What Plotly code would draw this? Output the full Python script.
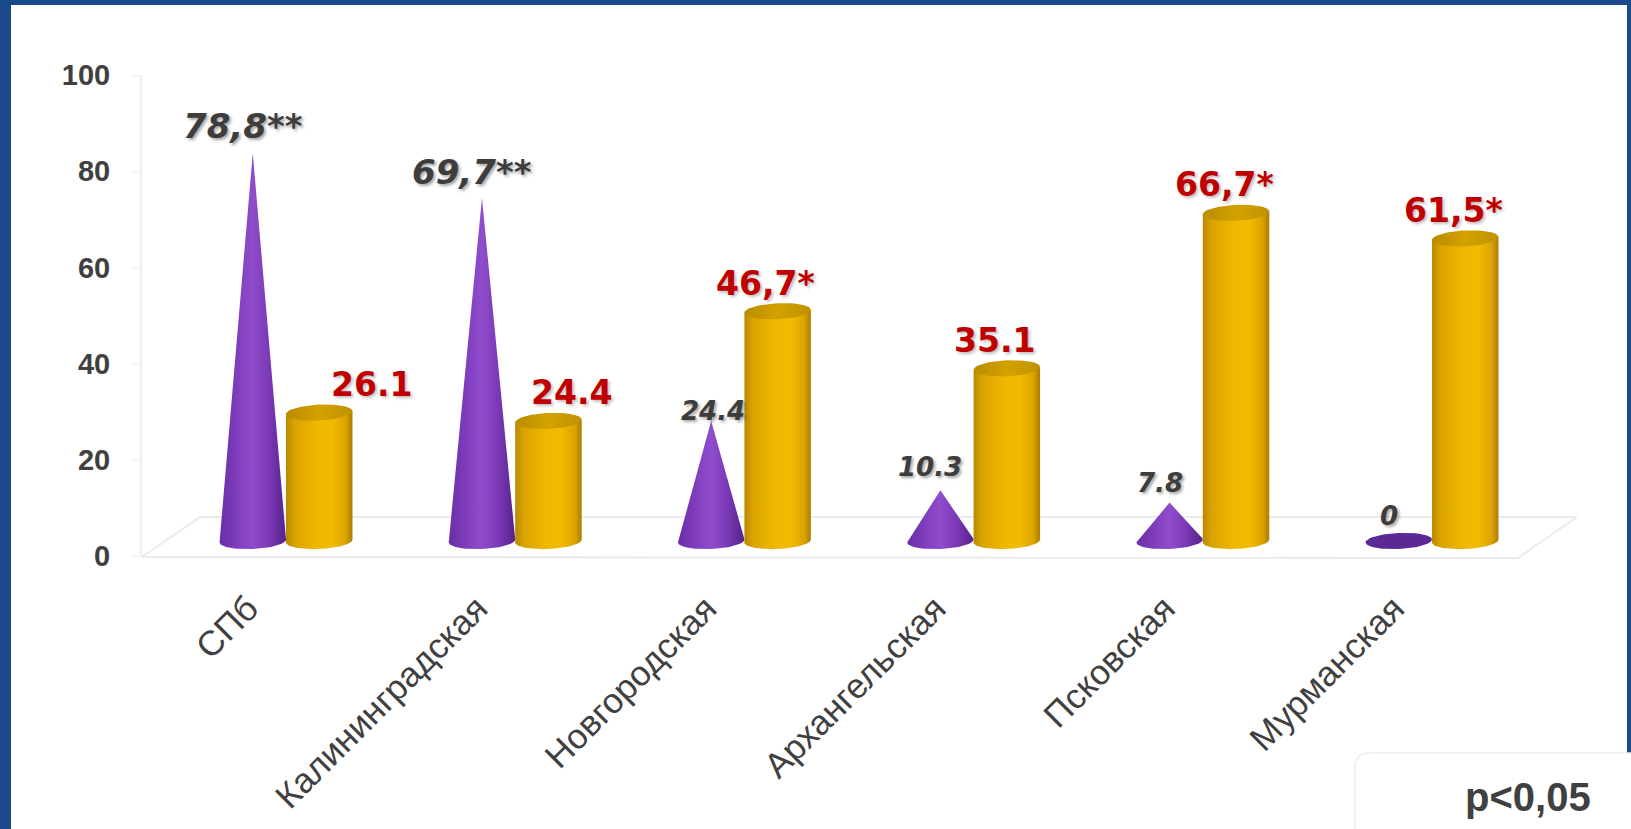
import numpy as np
import plotly.graph_objects as go

W, H = 1631, 829

# ---- data -------------------------------------------------------------
regions = ["СПб", "Калининградская", "Новгородская", "Архангельская", "Псковская", "Мурманская"]
cone_values = [78.8, 69.7, 24.4, 10.3, 7.8, 0]
cyl_values = [26.1, 24.4, 46.7, 35.1, 66.7, 61.5]
cone_labels = ["78,8**", "69,7**", "24.4", "10.3", "7.8", "0"]
cyl_labels = ["26.1", "24.4", "46,7*", "35.1", "66,7*", "61,5*"]
y_ticks = [0, 20, 40, 60, 80, 100]

# ---- label placement (pixels) -------------------------------------------
cyl_label_dx = [52, 23, -12, -12, -12, -12]
cone_label_dx = [-10, -10, 2, -10, -10, -10]
cone_label_dy = [27, 26, 10, 23, 20, 25]

FONT = "Liberation Sans, Arial, sans-serif"
WIDE = "DejaVu Sans, Verdana, sans-serif"
PURPLE = [[0, "#6a2ea6"], [0.3, "#823fc0"], [0.5, "#8f4dcc"], [0.75, "#7a38b6"], [1, "#55228a"]]
GOLD = [[0, "#b88900"], [0.12, "#d9a200"], [0.45, "#efb700"], [0.7, "#f2bb00"],
        [0.9, "#dba300"], [1, "#a97d00"]]
GOLD_TOP = [[0, "#b98c00"], [0.5, "#d3a200"], [1, "#c09200"]]


def px(x):
    return x / W


def py(y):
    return 1 - y / H


# geometry of the 3-D marks, in axis units
OFF = 0.145          # cone / cylinder centre offset from the category
A = 0.145            # half width
B = 8 / 4.92         # ellipse semi-minor axis
TILT = 0.3


def ellipse(cx, cy, t0=0.0, t1=2 * np.pi, n=73):
    t = np.linspace(t0, t1, n)
    return cx + A * np.cos(t), cy + B * np.sin(t) + TILT * np.cos(t)


def hull(xs, ys):
    pts = sorted(set(zip(np.round(xs, 6), np.round(ys, 6))))

    def cross(o, a, b):
        return (a[0] - o[0]) * (b[1] - o[1]) - (a[1] - o[1]) * (b[0] - o[0])

    lower, upper = [], []
    for p in pts:
        while len(lower) >= 2 and cross(lower[-2], lower[-1], p) <= 0:
            lower.pop()
        lower.append(p)
    for p in reversed(pts):
        while len(upper) >= 2 and cross(upper[-2], upper[-1], p) <= 0:
            upper.pop()
        upper.append(p)
    h = lower[:-1] + upper[:-1]
    h.append(h[0])
    return [p[0] for p in h], [p[1] for p in h]


fig = go.Figure()

# empty trace so the value axis subplot gets drawn
fig.add_trace(go.Scatter(x=[None], y=[None], xaxis="x", yaxis="y", mode="markers",
                         hoverinfo="skip", showlegend=False))

# cones
for i, v in enumerate(cone_values):
    cx = i - OFF
    ex, ey = ellipse(cx, 0)
    hx, hy = hull(np.append(ex, cx), np.append(ey, v))
    if v == 0:
        fill = dict(fillcolor="#5b2896")
    else:
        fill = dict(fillgradient=dict(type="horizontal", colorscale=PURPLE))
    fig.add_trace(go.Scatter(x=hx, y=hy, yaxis="y2", mode="lines", fill="toself",
                             line=dict(width=0, color="rgba(0,0,0,0)"),
                             hoverinfo="skip", showlegend=False, **fill))

# cylinders
for i, v in enumerate(cyl_values):
    cx = i + OFF
    ax, ay = ellipse(cx, 0, 0, -np.pi)
    bx = np.concatenate([[cx - A, cx + A], ax])
    by = np.concatenate([[v - TILT, v + TILT], ay])
    bx = np.append(bx, bx[0])
    by = np.append(by, by[0])
    fig.add_trace(go.Scatter(x=bx, y=by, yaxis="y2", mode="lines", fill="toself",
                             line=dict(width=0, color="rgba(0,0,0,0)"),
                             fillgradient=dict(type="horizontal", colorscale=GOLD),
                             hoverinfo="skip", showlegend=False))
    tx, ty = ellipse(cx, v)
    fig.add_trace(go.Scatter(x=tx, y=ty, yaxis="y2", mode="lines", fill="toself",
                             line=dict(width=0, color="rgba(0,0,0,0)"),
                             fillgradient=dict(type="horizontal", colorscale=GOLD_TOP),
                             hoverinfo="skip", showlegend=False))

SHADOW = "2px 2px 3px rgba(0,0,0,0.35)"
annotations = []
for i, v in enumerate(cone_values):
    big = v > 50
    annotations.append(dict(
        x=i - OFF, y=v, xref="x", yref="y2", text=cone_labels[i], showarrow=False,
        xshift=cone_label_dx[i], yshift=cone_label_dy[i], xanchor="center", yanchor="middle",
        font=dict(family=WIDE, size=34 if big else 26, color="#3d3d3d",
                  weight="bold", style="italic", shadow=SHADOW)))
for i, v in enumerate(cyl_values):
    annotations.append(dict(
        x=i + OFF, y=v, xref="x", yref="y2", text=cyl_labels[i], showarrow=False,
        xshift=cyl_label_dx[i], yshift=28, xanchor="center", yanchor="middle",
        font=dict(family=WIDE, size=33, color="#c00000", weight="bold",
                  shadow="2px 2px 3px rgba(0,0,0,0.25)")))
annotations.append(dict(
    x=px(1528), y=py(797), xref="paper", yref="paper", text="p<0,05", showarrow=False,
    xanchor="center", yanchor="middle",
    font=dict(family=FONT, size=40, color="#404040", weight="bold")))

FLOOR = "#ebebeb"
shapes = [
    # white slide area inside the blue frame
    dict(type="rect", xref="paper", yref="paper", x0=px(11), x1=px(1627), y0=0, y1=py(5),
         fillcolor="white", line=dict(width=0), layer="below"),
    # floor of the 3-D plot area
    dict(type="line", xref="paper", yref="paper", x0=px(142), y0=py(557), x1=px(1518), y1=py(558),
         line=dict(color=FLOOR, width=2), layer="below"),
    dict(type="line", xref="paper", yref="paper", x0=px(200), y0=py(517), x1=px(1577), y1=py(517),
         line=dict(color=FLOOR, width=2), layer="below"),
    dict(type="line", xref="paper", yref="paper", x0=px(142), y0=py(557), x1=px(200), y1=py(517),
         line=dict(color=FLOOR, width=2), layer="below"),
    dict(type="line", xref="paper", yref="paper", x0=px(1518), y0=py(558), x1=px(1577), y1=py(517),
         line=dict(color=FLOOR, width=2), layer="below"),
    # rounded note box
    dict(type="path", xref="paper", yref="paper",
         path=(f"M {px(1370)} {py(753)} L {px(1640)} {py(753)} L {px(1640)} {py(840)} "
               f"L {px(1355)} {py(840)} L {px(1355)} {py(768)} "
               f"Q {px(1355)} {py(753)} {px(1370)} {py(753)} Z"),
         fillcolor="white", line=dict(color="#eeeeee", width=1.5), layer="below"),
]

fig.update_layout(
    width=W, height=H, autosize=False,
    margin=dict(l=0, r=0, t=0, b=0, autoexpand=False),
    paper_bgcolor="#1b4a8b", plot_bgcolor="rgba(0,0,0,0)",
    showlegend=False,
    xaxis=dict(domain=[px(142), 1], range=[-(286 - 142) / 229.2, 5 + (W - 1432) / 229.2],
               anchor="y", tickmode="array", tickvals=list(range(len(regions))), ticktext=regions,
               tickangle=-45, showgrid=False, zeroline=False, showline=False, ticks="",
               ticklabelshift=-38, ticklabelstandoff=24, automargin=False,
               tickfont=dict(family=FONT, size=35, color="#404040")),
    yaxis=dict(domain=[py(556), py(75)], range=[0, 100], anchor="x", tickmode="array",
               tickvals=y_ticks, showgrid=False, zeroline=False, showline=True,
               linecolor="#f0f0f0", linewidth=2, ticks="outside", ticklen=8,
               tickcolor="#eeeeee", ticklabelstandoff=16, automargin=False,
               tickfont=dict(family=FONT, size=29, color="#404040", weight="bold")),
    yaxis2=dict(domain=[py(541 + 5 * 4.92), py(49)], range=[-5, 100], anchor="x",
                visible=False, automargin=False),
    annotations=annotations,
    shapes=shapes,
)

fig.write_html("out.html", config=dict(displayModeBar=False))
